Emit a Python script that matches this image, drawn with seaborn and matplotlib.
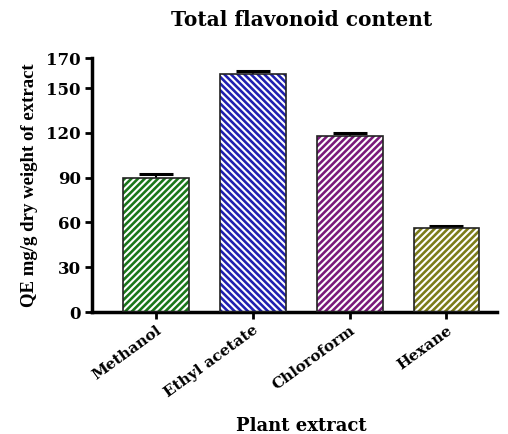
import matplotlib
matplotlib.use("Agg")
import matplotlib.pyplot as plt
import seaborn as sns
import pandas as pd
import numpy as np

categories = ["Methanol", "Ethyl acetate", "Chloroform", "Hexane"]
values = [90, 159.5, 118, 56.5]
errors = [2.5, 2.0, 2.0, 1.0]
colors = ["#0a870a", "#0808c8", "#8a0a8a", "#8c8c0a"]
hatches = ["/////", "\\\\\\\\\\", "/////", "/////"]
yticks = [0, 30, 60, 90, 120, 150, 170]

sns.set_theme(style="ticks")
plt.rcParams["font.family"] = ["DejaVu Serif"]
plt.rcParams["font.weight"] = "bold"
plt.rcParams["hatch.linewidth"] = 1.5
plt.rcParams["hatch.color"] = "white"
plt.rcParams["text.color"] = "black"
plt.rcParams["axes.labelcolor"] = "black"

df = pd.DataFrame({"extract": categories, "value": values})

fig = plt.figure(figsize=(5.08, 4.34), dpi=100)
ax = fig.add_axes([0.181, 0.281, 0.797, 0.585])

# error bars behind bars
ax.errorbar(np.arange(len(categories)), values, yerr=errors, fmt="none",
            ecolor="black", elinewidth=1.5, capsize=12, capthick=2.2, zorder=1)

sns.barplot(data=df, x="extract", y="value", hue="extract", palette=colors,
            width=0.68, legend=False, errorbar=None, ax=ax, zorder=2,
            linewidth=0, edgecolor="white")
for p, h in zip(ax.patches, hatches):
    p.set_hatch(h)
    p.set_edgecolor("white")
    p.set_linewidth(0)

# outline overlay
sns.barplot(data=df, x="extract", y="value", width=0.68, fill=False,
            errorbar=None, ax=ax, zorder=3, linewidth=1.2, edgecolor="#222222")

ax.set_xlim(-0.66, 3.52)
ax.set_ylim(0, 170)
ax.set_yticks(yticks)
ax.set_yticklabels([str(t) for t in yticks], fontsize=12, fontweight="bold")
ax.set_xticks(range(len(categories)))
ax.set_xticklabels(categories, rotation=36, ha="right", rotation_mode="anchor",
                   fontsize=11, fontweight="bold")
for s in ["top", "right"]:
    ax.spines[s].set_visible(False)
for s in ["left", "bottom"]:
    ax.spines[s].set_linewidth(2.5)
    ax.spines[s].set_color("black")
ax.tick_params(axis="both", direction="out", length=5, width=2, color="black",
               labelcolor="black", pad=3)
ax.set_xlabel("Plant extract", fontsize=13, fontweight="bold", va="center")
ax.xaxis.set_label_coords(0.516, -0.449)
ax.set_ylabel("QE mg/g dry weight of extract", fontsize=13.5, fontweight="bold",
              labelpad=6, family=["Liberation Serif"])
fig.text(0.594, 0.953, "Total flavonoid content", ha="center", va="center",
         fontsize=14.5, fontweight="bold")

fig.savefig("out.png", dpi=100)
